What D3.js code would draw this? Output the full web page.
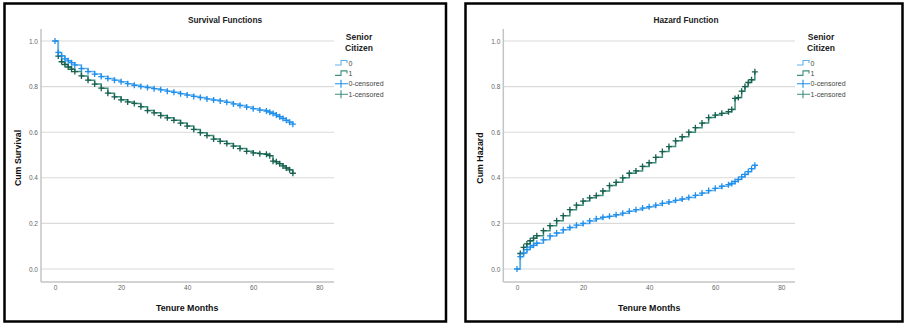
<!DOCTYPE html>
<html><head><meta charset="utf-8">
<script src="https://cdn.jsdelivr.net/npm/d3@7"></script>
<style>
body{margin:0;background:#fff;}
svg{display:block;font-family:"Liberation Sans",Arial,sans-serif;}
</style></head>
<body>
<svg id="c" width="904" height="325"></svg>
<script>
const months = [0,1,2,3,4,5,6,8,10,12,14,16,18,20,22,24,26,28,30,32,34,36,38,40,42,44,46,48,50,52,54,56,58,60,62,64,65,66,67,68,69,70,71,72];
const survival0 = [1.0,0.95,0.935,0.922,0.913,0.905,0.895,0.879,0.866,0.855,0.844,0.835,0.828,0.821,0.813,0.806,0.800,0.796,0.791,0.786,0.780,0.775,0.769,0.763,0.757,0.752,0.746,0.741,0.737,0.731,0.724,0.717,0.710,0.703,0.697,0.693,0.688,0.682,0.675,0.668,0.660,0.652,0.644,0.635];
const survival1 = [1.0,0.934,0.909,0.897,0.886,0.876,0.866,0.847,0.828,0.811,0.793,0.771,0.755,0.742,0.733,0.726,0.712,0.695,0.685,0.673,0.663,0.652,0.640,0.627,0.612,0.598,0.585,0.570,0.560,0.550,0.539,0.528,0.516,0.509,0.506,0.503,0.497,0.473,0.470,0.462,0.452,0.443,0.435,0.420];
const hazard0 = [0,0.054,0.070,0.085,0.096,0.104,0.113,0.128,0.145,0.158,0.172,0.182,0.192,0.200,0.211,0.220,0.227,0.231,0.238,0.245,0.253,0.260,0.267,0.273,0.280,0.288,0.294,0.301,0.307,0.314,0.323,0.333,0.344,0.354,0.363,0.370,0.375,0.384,0.393,0.404,0.415,0.427,0.440,0.455];
const hazard1 = [0,0.068,0.095,0.110,0.124,0.135,0.146,0.168,0.190,0.212,0.234,0.260,0.280,0.298,0.312,0.322,0.342,0.366,0.380,0.400,0.420,0.430,0.450,0.466,0.490,0.515,0.537,0.562,0.580,0.600,0.620,0.640,0.664,0.675,0.683,0.690,0.700,0.748,0.752,0.780,0.800,0.818,0.830,0.865];
const yTicks = [0,0.2,0.4,0.6,0.8,1.0];
const xTicks = [0,20,40,60,80];
const legendItems = ["0","1","0-censored","1-censored"];
const titles = ["Survival Functions","Hazard Function"];
const yLabels = ["Cum Survival","Cum Hazard"];
const xLabel = "Tenure Months";
const legendTitle = ["Senior","Citizen"];

const lineCol = ["#62b1ef","#3f8e7e"];
const markCol = ["#1f8fec","#19604f"];

const svg = d3.select("#c");

function panel(cfg){
  const g = svg.append("g");
  g.append("rect").attr("x",cfg.bx).attr("y",3.5).attr("width",cfg.bw).attr("height",318)
    .attr("fill","#fff").attr("stroke","#000").attr("stroke-width",2.5);
  const x = d3.scaleLinear().domain([0,80]).range([cfg.x0, cfg.x0+264.3]);
  const y = d3.scaleLinear().domain([0,1]).range([269,41]);
  g.selectAll(".grid").data(yTicks).join("line")
    .attr("x1",cfg.ax).attr("x2",cfg.gx2).attr("y1",d=>y(d)).attr("y2",d=>y(d))
    .attr("stroke","#dadada").attr("stroke-width",1.1);
  g.append("line").attr("x1",cfg.ax).attr("x2",cfg.ax).attr("y1",29).attr("y2",282)
    .attr("stroke","#c4c4c4").attr("stroke-width",1.5);
  g.append("line").attr("x1",cfg.ax).attr("x2",cfg.gx2).attr("y1",282).attr("y2",282)
    .attr("stroke","#c4c4c4").attr("stroke-width",1.5);
  const ya = d3.axisLeft(y).tickValues(yTicks).tickFormat(d3.format(".1f")).tickSize(0).tickPadding(0);
  const yg = g.append("g").attr("transform",`translate(${cfg.ax-3},0)`).call(ya);
  yg.select(".domain").remove();
  yg.selectAll("text").attr("font-size",6.5).attr("fill","#666").attr("font-family","Liberation Sans, Arial, sans-serif");
  const xa = d3.axisBottom(x).tickValues(xTicks).tickFormat(d3.format("d")).tickSize(0).tickPadding(0);
  const xg = g.append("g").attr("transform",`translate(0,285)`).call(xa);
  xg.select(".domain").remove();
  xg.selectAll("text").attr("font-size",6.5).attr("fill","#666").attr("font-family","Liberation Sans, Arial, sans-serif");
  g.append("text").attr("x",cfg.tx).attr("y",23).attr("text-anchor","middle")
    .attr("font-size",8.3).attr("font-weight","bold").attr("fill","#222").text(cfg.title);
  g.append("text").attr("x",x(40)).attr("y",311).attr("text-anchor","middle")
    .attr("font-size",8.8).attr("font-weight","bold").attr("fill","#111").text(xLabel);
  g.append("text").attr("transform",`translate(${cfg.lx},158) rotate(-90)`).attr("text-anchor","middle")
    .attr("font-size",8.8).attr("font-weight","bold").attr("fill","#111").text(cfg.ylabel);
  const line = d3.line().x(d=>x(d[0])).y(d=>y(d[1])).curve(d3.curveStepAfter);
  const order = [1,0];
  order.forEach(i=>{
    const data = months.map((m,k)=>[m,cfg.series[i][k]]);
    g.append("path").attr("d",line(data)).attr("fill","none")
      .attr("stroke",lineCol[i]).attr("stroke-width",1.5);
  });
  order.forEach(i=>{
    const data = months.map((m,k)=>[m,cfg.series[i][k]]).filter(d=> i===0 || d[0]>0);
    const mg = g.append("g");
    mg.selectAll("path").data(data).join("path")
      .attr("d",d=>{const px=x(d[0]),py=y(d[1]);return `M${px-3},${py}H${px+3}M${px},${py-3}V${py+3}`;})
      .attr("stroke",markCol[i]).attr("stroke-width",1.3).attr("fill","none");
  });
  const lg = g.append("g");
  lg.append("text").attr("x",cfg.lgx+24).attr("y",40).attr("text-anchor","middle")
    .attr("font-size",8.5).attr("font-weight","bold").attr("fill","#222").text(legendTitle[0]);
  lg.append("text").attr("x",cfg.lgx+24).attr("y",51).attr("text-anchor","middle")
    .attr("font-size",8.5).attr("font-weight","bold").attr("fill","#222").text(legendTitle[1]);
  legendItems.forEach((t,k)=>{
    const yy = 63 + k*10.4;
    const sx = cfg.lgx;
    if(k<2){
      lg.append("path").attr("d",`M${sx},${yy+2}H${sx+6}V${yy-2.5}H${sx+12}V${yy}`)
        .attr("fill","none").attr("stroke",lineCol[k]).attr("stroke-width",1.1);
    } else {
      const c = k-2;
      lg.append("path").attr("d",`M${sx},${yy}H${sx+13}M${sx+6},${yy-4}V${yy+4}`)
        .attr("fill","none").attr("stroke",c===0?markCol[0]:lineCol[1]).attr("stroke-width",1.1);
    }
    lg.append("text").attr("x",sx+13.5).attr("y",yy+2.5).attr("font-size",7).attr("fill","#444").text(t);
  });
}

panel({bx:4.5,bw:441.5,x0:55,ax:41,gx2:334,tx:225,lx:21,lgx:335,title:titles[0],ylabel:yLabels[0],series:[survival0,survival1]});
panel({bx:465.5,bw:437,x0:517,ax:503.3,gx2:795,tx:686,lx:483,lgx:797,title:titles[1],ylabel:yLabels[1],series:[hazard0,hazard1]});
</script>
</body></html>
